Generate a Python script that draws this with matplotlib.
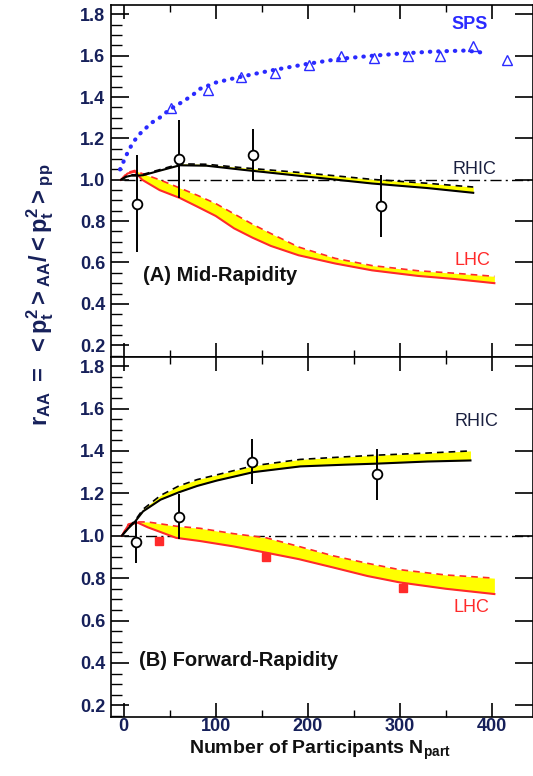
import matplotlib
matplotlib.use('Agg')
import matplotlib.pyplot as plt
from matplotlib.ticker import MultipleLocator

plt.rcParams['font.family'] = ['Liberation Sans', 'DejaVu Sans']
plt.rcParams['mathtext.fontset'] = 'custom'
plt.rcParams['mathtext.rm'] = 'Liberation Sans:bold'
plt.rcParams['mathtext.it'] = 'Liberation Sans:bold'
plt.rcParams['mathtext.bf'] = 'Liberation Sans:bold'

# ---- panel A : mid-rapidity ----
sps_curve_n = [-4, 4, 10, 17, 30, 39, 50, 65, 75, 83, 100, 119, 140, 162, 199, 235, 271, 300, 336, 372, 390]
sps_curve_v = [1.05, 1.13, 1.18, 1.22, 1.275, 1.30, 1.34, 1.38, 1.41, 1.44, 1.47, 1.49, 1.51, 1.53, 1.56,
               1.585, 1.60, 1.61, 1.62, 1.625, 1.615]
sps_n = [51, 92, 128, 165, 201, 236, 272, 309, 344, 380, 417]
sps_v = [1.345, 1.435, 1.495, 1.515, 1.555, 1.60, 1.59, 1.60, 1.60, 1.645, 1.58]

rhicA_n = [-3, 3, 8, 15, 21, 40, 61, 90, 130, 200, 270, 330, 380]
rhicA_lo = [1.0, 1.015, 1.02, 1.02, 1.022, 1.045, 1.07, 1.068, 1.048, 1.015, 0.982, 0.96, 0.937]
rhicA_hi = [1.0, 1.018, 1.024, 1.024, 1.026, 1.05, 1.077, 1.075, 1.058, 1.032, 1.002, 0.983, 0.965]

lhcA_n = [-3, 4, 12, 20, 39, 61, 80, 100, 120, 140, 160, 190, 230, 270, 320, 360, 403]
lhcA_lo = [1.0, 1.03, 1.04, 1.0, 0.95, 0.912, 0.87, 0.825, 0.765, 0.72, 0.68, 0.635, 0.595, 0.562, 0.535, 0.52, 0.50]
lhcA_hi = [1.0, 1.035, 1.045, 1.03, 1.0, 0.96, 0.925, 0.885, 0.835, 0.785, 0.74, 0.675, 0.62, 0.585, 0.56, 0.548, 0.533]

dataA_n = [14, 60, 141, 280]
dataA_v = [0.885, 1.10, 1.12, 0.875]
dataA_e = [0.235, 0.19, 0.125, 0.15]

# ---- panel B : forward-rapidity ----
rhicB_n = [-2, 5, 12, 21, 40, 60, 80, 101, 141, 192, 240, 275, 330, 377]
rhicB_lo = [1.0, 1.035, 1.065, 1.115, 1.17, 1.205, 1.235, 1.26, 1.30, 1.327, 1.335, 1.34, 1.35, 1.355]
rhicB_hi = [1.0, 1.04, 1.07, 1.125, 1.19, 1.235, 1.265, 1.287, 1.33, 1.36, 1.372, 1.38, 1.39, 1.40]

lhcB_n = [-2, 5, 15, 26, 57, 83, 119, 155, 190, 228, 265, 300, 350, 403]
lhcB_lo = [1.0, 1.05, 1.062, 1.04, 0.99, 0.975, 0.95, 0.92, 0.89, 0.85, 0.81, 0.78, 0.75, 0.725]
lhcB_hi = [1.0, 1.055, 1.065, 1.065, 1.045, 1.035, 1.01, 0.99, 0.95, 0.905, 0.87, 0.84, 0.815, 0.80]

dataB_n = [13, 60, 139, 275]
dataB_v = [0.97, 1.09, 1.35, 1.29]
dataB_e = [0.10, 0.105, 0.105, 0.12]

lhc_pts_n = [38, 155, 304]
lhc_pts_v = [0.975, 0.90, 0.755]
lhc_pts_e = [0.0, 0.02, 0.02]

tick_col = '#16205a'
blue = '#2a2aff'
red = '#ff2a2a'
yellow = '#ffff00'

fig = plt.figure(figsize=(5.33, 7.76), dpi=100)
axA = fig.add_axes([0.208, 0.5405, 0.792, 0.453])
axB = fig.add_axes([0.208, 0.076, 0.792, 0.4645])


def style(ax, show_x):
    ax.set_xlim(-14, 445)
    ax.set_ylim(0.145, 1.845)
    ax.xaxis.set_major_locator(MultipleLocator(100))
    ax.xaxis.set_minor_locator(MultipleLocator(50))
    ax.yaxis.set_major_locator(MultipleLocator(0.2))
    ax.yaxis.set_minor_locator(MultipleLocator(0.05))
    ax.tick_params(axis='y', which='major', direction='in', length=13, width=1.2,
                   left=True, right=True, labelsize=13, labelcolor=tick_col, pad=4)
    ax.tick_params(axis='y', which='minor', direction='in', length=8, width=1.0, left=True, right=False)
    ax.tick_params(axis='x', which='major', direction='in', length=10, width=1.2,
                   top=True, bottom=True, labelsize=13, labelcolor=tick_col, pad=1)
    ax.tick_params(axis='x', which='minor', direction='in', length=5, width=1.0, top=True, bottom=True)
    for lab in ax.get_yticklabels() + ax.get_xticklabels():
        lab.set_fontweight('bold')
    ax.yaxis.set_major_formatter(plt.FuncFormatter(lambda v, p: f'{v:.1f}'))
    if not show_x:
        ax.tick_params(axis='x', labelbottom=False)
    for s in ax.spines.values():
        s.set_linewidth(1.2)
    ax.axhline(1.0, xmin=0.03, color='black', lw=1.0, ls=(0, (8, 3, 1.5, 3)), zorder=1)


def band(ax, n, lo, hi, col):
    ax.fill_between(n, lo, hi, color=yellow, lw=0, zorder=2)
    ax.plot(n, lo, color=col, lw=1.5, zorder=3)
    ax.plot(n, hi, color=col, lw=1.2, ls=(0, (4, 3)), zorder=3)


style(axA, False)
style(axB, True)

# panel A
axA.plot(sps_curve_n, sps_curve_v, color=blue, lw=3.0, ls=(0, (0.1, 1.9)),
         dash_capstyle='round', zorder=3)
axA.plot(sps_n, sps_v, ls='none', marker='^', ms=7, mfc='none', mec=blue, mew=1.0, zorder=4)
band(axA, lhcA_n, lhcA_lo, lhcA_hi, red)
band(axA, rhicA_n, rhicA_lo, rhicA_hi, 'black')
axA.errorbar(dataA_n, dataA_v, yerr=dataA_e, fmt='o', ms=7, mfc='white', mec='black',
             mew=1.3, ecolor='black', elinewidth=1.4, capsize=0, zorder=5)
axA.text(376, 1.75, 'SPS', color=blue, fontsize=13, fontweight='bold', ha='center', va='center')
axA.text(381, 1.05, 'RHIC', color='#1a2040', fontsize=13, ha='center', va='center')
axA.text(379, 0.61, 'LHC', color=red, fontsize=13, ha='center', va='center')
axA.text(21, 0.535, '(A) Mid-Rapidity', color='#111111', fontsize=14.5, fontweight='bold',
         ha='left', va='center')

# panel B
band(axB, lhcB_n, lhcB_lo, lhcB_hi, red)
band(axB, rhicB_n, rhicB_lo, rhicB_hi, 'black')
axB.errorbar(dataB_n, dataB_v, yerr=dataB_e, fmt='o', ms=7, mfc='white', mec='black',
             mew=1.3, ecolor='black', elinewidth=1.4, capsize=0, zorder=5)
axB.errorbar(lhc_pts_n, lhc_pts_v, yerr=lhc_pts_e, fmt='s', ms=6, mfc=red, mec=red,
             ecolor=red, elinewidth=1.2, capsize=0, zorder=5)
axB.text(383, 1.54, 'RHIC', color='#1a2040', fontsize=13, ha='center', va='center')
axB.text(378, 0.66, 'LHC', color=red, fontsize=13, ha='center', va='center')
axB.text(17, 0.41, '(B) Forward-Rapidity', color='#111111', fontsize=14.5, fontweight='bold',
         ha='left', va='center')

ylab = r'$r_{AA}\ =\ {<}p_t^2{>}_{AA}/{<}p_t^2{>}_{pp}$'
fig.text(0.075, 0.62, ylab, rotation=90,
         fontsize=17, fontweight='bold', color=tick_col, ha='center', va='center')
fig.text(0.60, 0.033, r'Number of Participants N$_{part}$', fontsize=14, fontweight='bold',
         color='#111111', ha='center', va='center')

fig.savefig('out.png', dpi=100)
